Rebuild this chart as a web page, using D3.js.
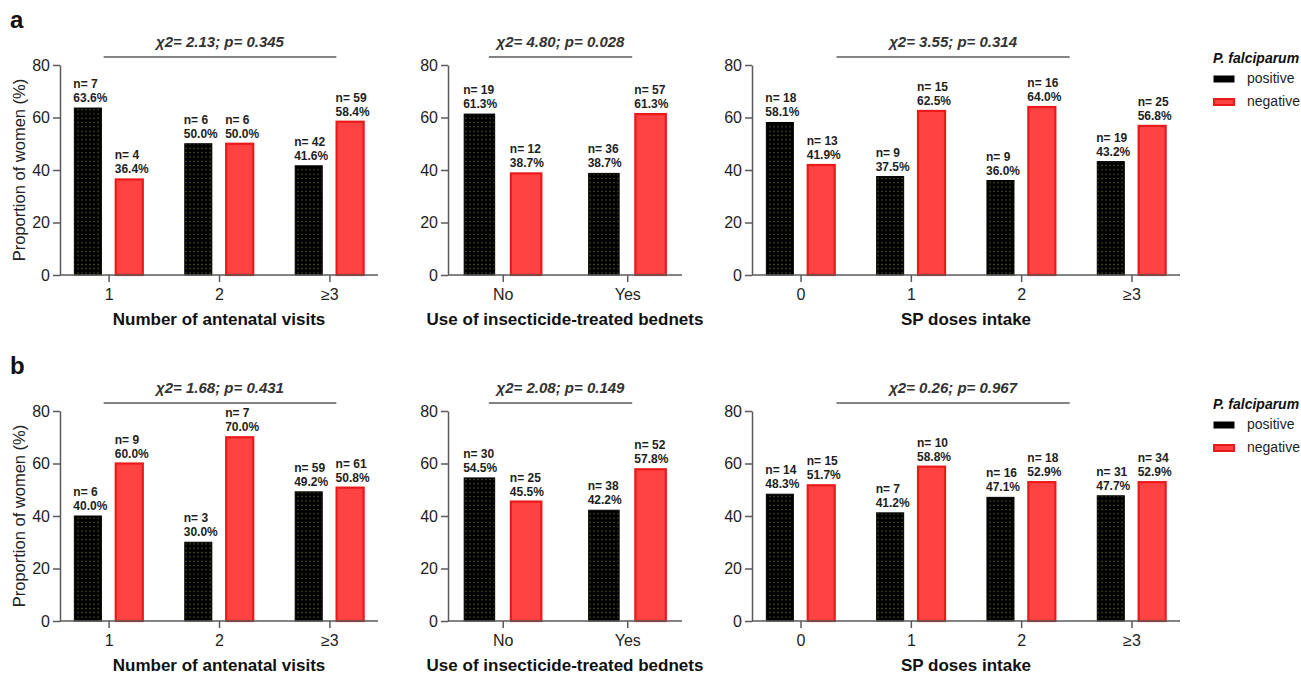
<!DOCTYPE html>
<html>
<head>
<meta charset="utf-8">
<script src="https://cdn.jsdelivr.net/npm/d3@7"></script>
<style>
body { margin: 0; background: #fff; }
text { font-family: "Liberation Sans", Arial, sans-serif; }
</style>
</head>
<body>
<script>
// Categories and tick values
var visitCats = ["1", "2", "≥3"];
var bednetCats = ["No", "Yes"];
var spCats = ["0", "1", "2", "≥3"];
var yTicks = [0, 20, 40, 60, 80];
var groups = ["positive", "negative"];
var xTitles = ["Number of antenatal visits", "Use of insecticide-treated bednets", "SP doses intake"];

// Row a: percentages and counts
var aVisitPos = [63.6, 50.0, 41.6], aVisitPosN = [7, 6, 42];
var aVisitNeg = [36.4, 50.0, 58.4], aVisitNegN = [4, 6, 59];
var aNetPos = [61.3, 38.7], aNetPosN = [19, 36];
var aNetNeg = [38.7, 61.3], aNetNegN = [12, 57];
var aSpPos = [58.1, 37.5, 36.0, 43.2], aSpPosN = [18, 9, 9, 19];
var aSpNeg = [41.9, 62.5, 64.0, 56.8], aSpNegN = [13, 15, 16, 25];
var aChi = [["2.13", "0.345"], ["4.80", "0.028"], ["3.55", "0.314"]];

// Row b: percentages and counts
var bVisitPos = [40.0, 30.0, 49.2], bVisitPosN = [6, 3, 59];
var bVisitNeg = [60.0, 70.0, 50.8], bVisitNegN = [9, 7, 61];
var bNetPos = [54.5, 42.2], bNetPosN = [30, 38];
var bNetNeg = [45.5, 57.8], bNetNegN = [25, 52];
var bSpPos = [48.3, 41.2, 47.1, 47.7], bSpPosN = [14, 7, 16, 31];
var bSpNeg = [51.7, 58.8, 52.9, 52.9], bSpNegN = [15, 10, 18, 34];
var bChi = [["1.68", "0.431"], ["2.08", "0.149"], ["0.26", "0.967"]];

var width = 1301, height = 674;
var red = "#ff4242", redEdge = "#ea1a1a", axisGray = "#5a5a5a";

var svg = d3.select("body")
	.append("svg")
		.attr("width", width)
		.attr("height", height)
		.style("display", "block");

svg.append("rect").attr("width", width).attr("height", height).attr("fill", "#fff");

// Dotted fill for the positive bars
var pat = svg.append("defs").append("pattern")
	.attr("id", "dots")
	.attr("patternUnits", "userSpaceOnUse")
	.attr("width", 4).attr("height", 4.3);
pat.append("rect").attr("width", 4).attr("height", 4.3).attr("fill", "#000");
pat.append("rect").attr("x", 1.5).attr("y", 1.6).attr("width", 1.1).attr("height", 1.1).attr("fill", "#7d7d33");

// Panel frames (x range of each axis, and span of the chi-square line in category units)
var panels = [
	{ x0: 60, x1: 378, span: [-0.045, 2.063] },
	{ x0: 448, x1: 682, span: [-0.112, 1.04] },
	{ x0: 752, x1: 1180, span: [0.326, 2.44] }
];
var rows = [
	{ label: "a", top: 65, bottom: 275,
		sets: [
			[visitCats, aVisitPos, aVisitPosN, aVisitNeg, aVisitNegN],
			[bednetCats, aNetPos, aNetPosN, aNetNeg, aNetNegN],
			[spCats, aSpPos, aSpPosN, aSpNeg, aSpNegN]
		], chi: aChi },
	{ label: "b", top: 411, bottom: 621,
		sets: [
			[visitCats, bVisitPos, bVisitPosN, bVisitNeg, bVisitNegN],
			[bednetCats, bNetPos, bNetPosN, bNetNeg, bNetNegN],
			[spCats, bSpPos, bSpPosN, bSpNeg, bSpNegN]
		], chi: bChi }
];

rows.forEach(function (row) {
	svg.append("text")
		.attr("x", 10)
		.attr("y", row.top - 37)
		.attr("font-size", 24)
		.attr("font-weight", "bold")
		.attr("fill", "#111")
		.text(row.label);

	var y = d3.scaleLinear().domain([0, 80]).range([row.bottom, row.top]);

	row.sets.forEach(function (set, pi) {
		var p = panels[pi];
		var cats = set[0];
		var x = d3.scalePoint().domain(cats).range([p.x0, p.x1]).padding(0.44);
		var step = x.step();
		var sub = d3.scaleBand().domain(groups)
			.range([-0.31 * step, 0.31 * step])
			.paddingInner(0.347);

		var bars = [];
		cats.forEach(function (c, i) {
			bars.push({ cat: c, key: "positive", v: set[1][i], n: set[2][i] });
			bars.push({ cat: c, key: "negative", v: set[3][i], n: set[4][i] });
		});

		var g = svg.append("g");

		g.selectAll("rect.bar")
			.data(bars)
			.enter().append("rect")
				.attr("class", "bar")
				.attr("x", function (d) { return x(d.cat) + sub(d.key); })
				.attr("y", function (d) { return y(d.v); })
				.attr("width", sub.bandwidth())
				.attr("height", function (d) { return y(0) - y(d.v); })
				.attr("fill", function (d) { return d.key === "positive" ? "url(#dots)" : red; })
				.attr("stroke", function (d) { return d.key === "positive" ? "#000" : redEdge; })
				.attr("stroke-width", function (d) { return d.key === "positive" ? 1 : 2.2; });

		// n and percentage above each bar
		var lab = g.selectAll("text.lab")
			.data(bars)
			.enter().append("text")
				.attr("class", "lab")
				.attr("font-size", 12)
				.attr("font-weight", "bold")
				.attr("fill", "#1e1e1e");
		lab.append("tspan")
			.attr("x", function (d) { return x(d.cat) + sub(d.key) - 1; })
			.attr("y", function (d) { return y(d.v) - 20; })
			.text(function (d) { return "n= " + d.n; });
		lab.append("tspan")
			.attr("x", function (d) { return x(d.cat) + sub(d.key) - 1; })
			.attr("y", function (d) { return y(d.v) - 6; })
			.text(function (d) { return d.v.toFixed(1) + "%"; });

		// Axes
		var yAxis = g.append("g")
			.attr("transform", "translate(" + p.x0 + ",0)")
			.call(d3.axisLeft(y).tickValues(yTicks).tickSize(7).tickSizeOuter(0).tickPadding(3));
		var xAxis = g.append("g")
			.attr("transform", "translate(0," + row.bottom + ")")
			.call(d3.axisBottom(x).tickSize(7).tickSizeOuter(0).tickPadding(7));
		xAxis.select(".domain").attr("d", "M" + p.x0 + ",0H" + p.x1);
		[yAxis, xAxis].forEach(function (ax) {
			ax.selectAll("path, line").attr("stroke", axisGray).attr("stroke-width", 1.5);
			ax.selectAll("text")
				.attr("font-size", 16)
				.attr("fill", "#1e1e1e")
				.attr("font-family", "'Liberation Sans', Arial, sans-serif");
		});

		g.append("text")
			.attr("x", (p.x0 + p.x1) / 2)
			.attr("y", row.bottom + 50)
			.attr("text-anchor", "middle")
			.attr("font-size", 17)
			.attr("font-weight", "bold")
			.attr("fill", "#111")
			.text(xTitles[pi]);

		// Chi-square line and text
		var lx = d3.scaleLinear().domain([0, cats.length - 1]).range([x(cats[0]), x(cats[cats.length - 1])]);
		var lineY = row.top - 8;
		g.append("line")
			.attr("x1", lx(p.span[0])).attr("x2", lx(p.span[1]))
			.attr("y1", lineY).attr("y2", lineY)
			.attr("stroke", axisGray).attr("stroke-width", 1.5);
		g.append("text")
			.attr("x", (lx(p.span[0]) + lx(p.span[1])) / 2)
			.attr("y", lineY - 10)
			.attr("text-anchor", "middle")
			.attr("font-size", 15)
			.attr("font-weight", "bold")
			.attr("font-style", "italic")
			.attr("fill", "#333")
			.text("χ2= " + row.chi[pi][0] + "; p= " + row.chi[pi][1]);

		if (pi === 0) {
			g.append("text")
				.attr("transform", "translate(25," + (row.top + row.bottom) / 2 + ") rotate(-90)")
				.attr("text-anchor", "middle")
				.attr("font-size", 16.5)
				.attr("fill", "#222")
				.text("Proportion of women (%)");
		}
	});

	// Legend
	var lg = svg.append("g").attr("transform", "translate(1213," + (row.top - 2) + ")");
	lg.append("text")
		.attr("y", 0)
		.attr("font-size", 14)
		.attr("font-weight", "bold")
		.attr("font-style", "italic")
		.attr("fill", "#111")
		.text("P. falciparum");
	var items = lg.selectAll("g.item")
		.data(groups)
		.enter().append("g")
			.attr("transform", function (d, i) { return "translate(0," + (20 + i * 23) + ")"; });
	items.append("rect")
		.attr("x", 1).attr("y", -7)
		.attr("width", 20).attr("height", 6)
		.attr("fill", function (d) { return d === "positive" ? "#000" : red; })
		.attr("stroke", function (d) { return d === "positive" ? "#000" : redEdge; })
		.attr("stroke-width", function (d) { return d === "positive" ? 1 : 2; });
	items.append("text")
		.attr("x", 34)
		.attr("y", 0)
		.attr("font-size", 14)
		.attr("fill", "#1e1e1e")
		.text(function (d) { return d; });
});
</script>
</body>
</html>
